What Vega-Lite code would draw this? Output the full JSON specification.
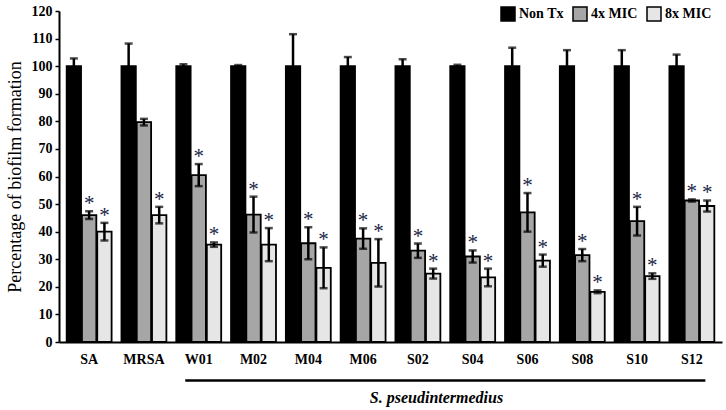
{
  "$schema": "https://vega.github.io/schema/vega-lite/v6.json",
  "width": 663,
  "height": 331,
  "autosize": {"type": "none"},
  "padding": {"left": 59, "top": 11, "right": 4, "bottom": 68},
  "config": {
    "view": {"stroke": null},
    "font": "Liberation Serif",
    "axis": {"grid": false, "labelFont": "Liberation Serif", "titleFont": "Liberation Serif", "domainColor": "black", "domainWidth": 2, "labelColor": "black", "titleColor": "black"},
    "axisY": {
      "tickCount": 12,
      "labelOverlap": false,
      "labelFontSize": 14,
      "labelFontWeight": "bold",
      "labelPadding": 3,
      "tickColor": "black",
      "tickWidth": 1.5,
      "tickSize": 4,
      "titleFontSize": 18,
      "titleFontWeight": "normal",
      "titlePadding": 7
    },
    "axisX": {
      "labelAngle": 0,
      "labelFontSize": 14,
      "labelFontWeight": "bold",
      "labelPadding": 10,
      "ticks": false,
      "titleFontStyle": "italic",
      "titleFontWeight": "bold",
      "titleFontSize": 16
    },
    "legend": {
      "labelFont": "Liberation Serif",
      "labelFontSize": 14,
      "labelFontWeight": "bold",
      "labelColor": "black",
      "labelOffset": 3,
      "columnPadding": 6,
      "padding": 0,
      "symbolSize": 196,
      "symbolStrokeColor": "black",
      "symbolStrokeWidth": 1.5
    },
    "text": {"font": "Liberation Serif"}
  },
  "layer": [
    {
      "data": {
        "values": [
          {"group": "SA", "treatment": "Non Tx", "value": 100, "err": 2.8, "sig": ""},
          {"group": "SA", "treatment": "4x MIC", "value": 46, "err": 1.4, "sig": "*"},
          {"group": "SA", "treatment": "8x MIC", "value": 40, "err": 3.2, "sig": "*"},
          {"group": "MRSA", "treatment": "Non Tx", "value": 100, "err": 8.2, "sig": ""},
          {"group": "MRSA", "treatment": "4x MIC", "value": 79.7, "err": 1.2, "sig": ""},
          {"group": "MRSA", "treatment": "8x MIC", "value": 46, "err": 3, "sig": "*"},
          {"group": "W01", "treatment": "Non Tx", "value": 100, "err": 0.7, "sig": ""},
          {"group": "W01", "treatment": "4x MIC", "value": 60.5, "err": 4, "sig": "*"},
          {"group": "W01", "treatment": "8x MIC", "value": 35.3, "err": 0.8, "sig": "*"},
          {"group": "M02", "treatment": "Non Tx", "value": 100, "err": 0.4, "sig": ""},
          {"group": "M02", "treatment": "4x MIC", "value": 46.2, "err": 6.5, "sig": "*"},
          {"group": "M02", "treatment": "8x MIC", "value": 35.3, "err": 6, "sig": "*"},
          {"group": "M04", "treatment": "Non Tx", "value": 100, "err": 11.6, "sig": ""},
          {"group": "M04", "treatment": "4x MIC", "value": 35.8, "err": 5.8, "sig": "*"},
          {"group": "M04", "treatment": "8x MIC", "value": 26.9, "err": 7.4, "sig": "*"},
          {"group": "M06", "treatment": "Non Tx", "value": 100, "err": 3.3, "sig": ""},
          {"group": "M06", "treatment": "4x MIC", "value": 37.5, "err": 3.7, "sig": "*"},
          {"group": "M06", "treatment": "8x MIC", "value": 28.7, "err": 8.6, "sig": "*"},
          {"group": "S02", "treatment": "Non Tx", "value": 100, "err": 2.5, "sig": ""},
          {"group": "S02", "treatment": "4x MIC", "value": 33.1, "err": 2.6, "sig": "*"},
          {"group": "S02", "treatment": "8x MIC", "value": 24.8, "err": 1.8, "sig": "*"},
          {"group": "S04", "treatment": "Non Tx", "value": 100, "err": 0.5, "sig": ""},
          {"group": "S04", "treatment": "4x MIC", "value": 31, "err": 2.2, "sig": "*"},
          {"group": "S04", "treatment": "8x MIC", "value": 23.4, "err": 3.2, "sig": "*"},
          {"group": "S06", "treatment": "Non Tx", "value": 100, "err": 6.7, "sig": ""},
          {"group": "S06", "treatment": "4x MIC", "value": 47, "err": 7, "sig": "*"},
          {"group": "S06", "treatment": "8x MIC", "value": 29.5, "err": 2.2, "sig": "*"},
          {"group": "S08", "treatment": "Non Tx", "value": 100, "err": 5.8, "sig": ""},
          {"group": "S08", "treatment": "4x MIC", "value": 31.5, "err": 2.2, "sig": "*"},
          {"group": "S08", "treatment": "8x MIC", "value": 18.2, "err": 0.5, "sig": "*"},
          {"group": "S10", "treatment": "Non Tx", "value": 100, "err": 5.8, "sig": ""},
          {"group": "S10", "treatment": "4x MIC", "value": 43.8, "err": 5.2, "sig": "*"},
          {"group": "S10", "treatment": "8x MIC", "value": 23.9, "err": 1, "sig": "*"},
          {"group": "S12", "treatment": "Non Tx", "value": 100, "err": 4.2, "sig": ""},
          {"group": "S12", "treatment": "4x MIC", "value": 51.3, "err": 0.4, "sig": "*"},
          {"group": "S12", "treatment": "8x MIC", "value": 49.3, "err": 2, "sig": "*"}
        ]
      },
      "transform": [
        {"calculate": "datum.value + datum.err", "as": "hi"},
        {"calculate": "datum.value - datum.err", "as": "lo"}
      ],
      "encoding": {
        "x": {
          "field": "group",
          "type": "nominal",
          "scale": {
            "domain": ["SA", "MRSA", "W01", "M02", "M04", "M06", "S02", "S04", "S06", "S08", "S10", "S12"],
            "paddingInner": 0.18,
            "paddingOuter": 0.14
          },
          "axis": {
            "title": "S. pseudintermedius",
            "titleX": 377,
            "titleY": 47
          }
        },
        "xOffset": {
          "field": "treatment",
          "sort": ["Non Tx", "4x MIC", "8x MIC"],
          "scale": {"paddingInner": 0.06}
        }
      },
      "layer": [
        {
          "mark": {"type": "bar", "stroke": "black", "strokeWidth": 1.8},
          "encoding": {
            "y": {
              "field": "value",
              "type": "quantitative",
              "scale": {"domain": [0, 120], "nice": false},
              "axis": {"title": "Percentage of biofilm formation"}
            },
            "color": {
              "field": "treatment",
              "type": "nominal",
              "scale": {
                "domain": ["Non Tx", "4x MIC", "8x MIC"],
                "range": ["#000000", "#a6a6a6", "#e6e6e6"]
              },
              "legend": {
                "title": null,
                "orient": "none",
                "legendX": 441,
                "legendY": -5,
                "direction": "horizontal",
                "symbolType": "square"
              }
            }
          }
        },
        {
          "mark": {"type": "rule", "color": "black", "strokeWidth": 2.5},
          "encoding": {
            "y": {"field": "lo", "type": "quantitative"},
            "y2": {"field": "hi"}
          }
        },
        {
          "mark": {"type": "tick", "color": "black", "size": 8, "thickness": 2.5},
          "encoding": {
            "y": {"field": "hi", "type": "quantitative"}
          }
        },
        {
          "mark": {"type": "tick", "color": "black", "size": 8, "thickness": 2.5},
          "encoding": {
            "y": {"field": "lo", "type": "quantitative"}
          }
        },
        {
          "mark": {"type": "text", "fontSize": 21, "color": "#1a2645", "baseline": "alphabetic", "dy": -1},
          "encoding": {
            "y": {"field": "hi", "type": "quantitative"},
            "text": {"field": "sig"}
          }
        }
      ]
    },
    {
      "data": {"values": [{"from": "W01", "to": "S12", "value": -14}]},
      "mark": {"type": "rule", "color": "black", "strokeWidth": 2.5},
      "encoding": {
        "x": {"field": "from", "type": "nominal", "bandPosition": 0.2},
        "x2": {"field": "to", "bandPosition": 0.8},
        "y": {"field": "value", "type": "quantitative"}
      }
    }
  ]
}
